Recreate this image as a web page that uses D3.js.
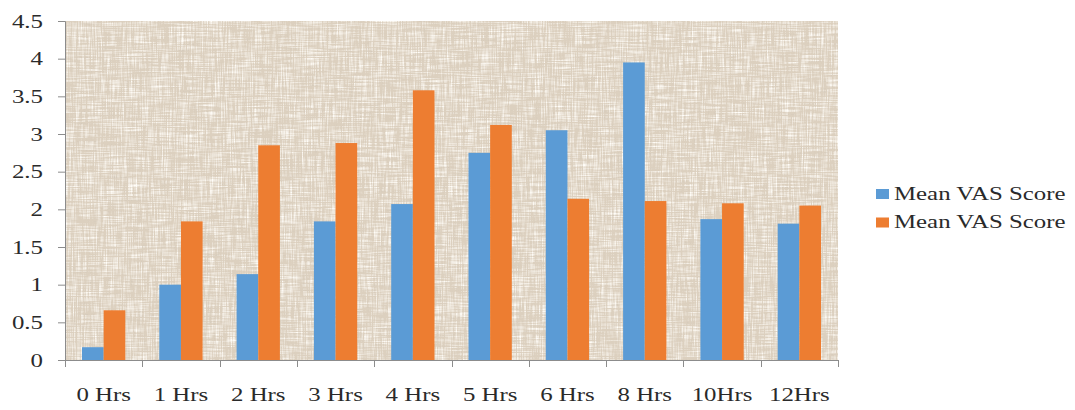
<!DOCTYPE html>
<html>
<head>
<meta charset="utf-8">
<script src="https://cdn.jsdelivr.net/npm/d3@7"></script>
<style>
  html, body { margin: 0; padding: 0; background: #fff; }
  svg { display: block; }
  text { font-family: "Liberation Serif", "Times New Roman", serif; fill: #2a2a2a; }
</style>
</head>
<body>
<svg id="chart" width="1075" height="410"></svg>
<script>
// Time points after the procedure
const categories = ["0 Hrs", "1 Hrs", "2 Hrs", "3 Hrs", "4 Hrs", "5 Hrs", "6 Hrs", "8 Hrs", "10Hrs", "12Hrs"];
// Two series, both labelled "Mean VAS Score"
const seriesNames = ["Mean VAS Score", "Mean VAS Score"];
const seriesA = [0.17, 1.00, 1.14, 1.84, 2.07, 2.75, 3.05, 3.95, 1.87, 1.81];
const seriesB = [0.66, 1.84, 2.85, 2.88, 3.58, 3.12, 2.14, 2.11, 2.08, 2.05];
const seriesColors = ["#5b9bd5", "#ed7d31"];
const yTicks = [0, 0.5, 1, 1.5, 2, 2.5, 3, 3.5, 4, 4.5];

const svg = d3.select("#chart");
const plot = { left: 65, right: 838, top: 21, bottom: 360 };
const stretch = 1.38; // horizontal widening of the serif labels

const x0 = d3.scaleBand().domain(categories).range([plot.left, plot.right]).padding(0);
const x1 = d3.scaleBand().domain([0, 1])
  .range([x0.bandwidth() * 0.22, x0.bandwidth() * 0.78]).padding(0);
const y = d3.scaleLinear().domain([0, 4.5]).range([plot.bottom, plot.top]);

// Fine woven, burlap-like backdrop of the plot area
const defs = svg.append("defs");
function weave(id, freqH, freqV, seedH, seedV, matrix) {
  const f = defs.append("filter").attr("id", id)
    .attr("x", 0).attr("y", 0).attr("width", "100%").attr("height", "100%");
  f.append("feTurbulence").attr("type", "fractalNoise")
    .attr("baseFrequency", freqH).attr("numOctaves", 2).attr("seed", seedH).attr("result", "h");
  f.append("feTurbulence").attr("type", "fractalNoise")
    .attr("baseFrequency", freqV).attr("numOctaves", 2).attr("seed", seedV).attr("result", "v");
  f.append("feComposite").attr("in", "h").attr("in2", "v").attr("operator", "arithmetic")
    .attr("k2", 0.5).attr("k3", 0.5).attr("result", "n");
  f.append("feColorMatrix").attr("in", "n").attr("type", "matrix").attr("values", matrix);
}
weave("weaveLight", "0.04 0.8", "0.8 0.04", 3, 11, "0 0 0 0 1  0 0 0 0 0.98  0 0 0 0 0.94  3.0 0 0 0 -1.3");
weave("weaveDark", "0.03 0.7", "0.7 0.03", 21, 5, "0 0 0 0 0.62  0 0 0 0 0.56  0 0 0 0 0.48  -2.4 0 0 0 1.0");

const bg = svg.append("g");
[["#dcd0bf", null], ["#fff", "url(#weaveDark)"], ["#fff", "url(#weaveLight)"]].forEach(([fill, filt]) => {
  const r = bg.append("rect").attr("x", plot.left).attr("y", plot.top)
    .attr("width", plot.right - plot.left).attr("height", plot.bottom - plot.top)
    .attr("fill", fill);
  if (filt) r.attr("filter", filt);
});

// Bars
const rows = categories.map((c, i) => ({ cat: c, vals: [seriesA[i], seriesB[i]] }));
const groups = svg.append("g").selectAll("g").data(rows).join("g")
  .attr("transform", d => `translate(${x0(d.cat)},0)`);
groups.selectAll("rect").data(d => d.vals.map((v, k) => ({ k, v }))).join("rect")
  .attr("x", d => x1(d.k))
  .attr("width", x1.bandwidth())
  .attr("y", d => y(d.v))
  .attr("height", d => y(0) - y(d.v))
  .attr("fill", d => seriesColors[d.k]);

// Y axis
const yAxis = svg.append("g").attr("transform", `translate(${plot.left},0)`)
  .call(d3.axisLeft(y).tickValues(yTicks).tickSize(7).tickPadding(0)
    .tickFormat(d => String(d)));
yAxis.select(".domain").attr("stroke", "#8c8c8c").attr("stroke-width", 1);
yAxis.selectAll(".tick line").attr("stroke", "#8c8c8c");
yAxis.selectAll(".tick text").remove();
yAxis.selectAll(".tick").append("text")
  .attr("transform", `translate(-22,0) scale(${stretch},1)`)
  .attr("text-anchor", "end").attr("dy", "0.34em")
  .attr("font-size", 18)
  .text(d => String(d));

// X axis with ticks at category boundaries
const xAxisG = svg.append("g");
xAxisG.append("line").attr("x1", plot.left).attr("x2", plot.right)
  .attr("y1", plot.bottom + 0.5).attr("y2", plot.bottom + 0.5)
  .attr("stroke", "#8c8c8c");
const bounds = categories.map(c => x0(c)).concat([plot.right]);
xAxisG.selectAll("line.b").data(bounds).join("line").attr("class", "b")
  .attr("x1", d => Math.round(d) + 0.5).attr("x2", d => Math.round(d) + 0.5)
  .attr("y1", plot.bottom).attr("y2", plot.bottom + 7)
  .attr("stroke", "#8c8c8c");
xAxisG.selectAll("text").data(categories).join("text")
  .attr("transform", d => `translate(${x0(d) + x0.bandwidth() / 2},401) scale(${stretch},1)`)
  .attr("text-anchor", "middle")
  .attr("font-size", 18)
  .text(d => d);

// Legend
const legend = svg.append("g");
const legendRows = legend.selectAll("g").data(seriesNames).join("g")
  .attr("transform", (d, i) => `translate(876,${194 + i * 28.5})`);
legendRows.append("rect").attr("x", 0).attr("y", -5).attr("width", 13).attr("height", 10)
  .attr("fill", (d, i) => seriesColors[i]);
legendRows.append("text")
  .attr("transform", `translate(18,5.5) scale(${stretch},1)`)
  .attr("font-size", 18)
  .text(d => d);
</script>
</body>
</html>
